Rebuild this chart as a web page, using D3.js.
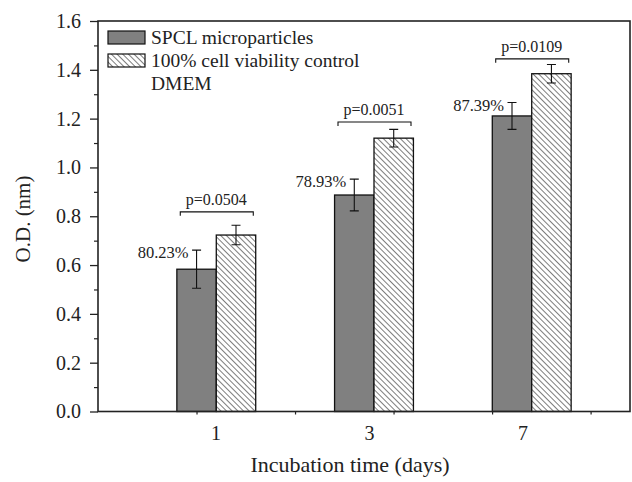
<!DOCTYPE html>
<html>
<head>
<meta charset="utf-8">
<script src="https://d3js.org/d3.v7.min.js"></script>
<style>
  body { margin: 0; background: #fff; }
</style>
</head>
<body>
<div id="chart"></div>
<script>
// data
const days = ["1", "3", "7"];
const spclMeans = [0.583, 0.887, 1.211];
const spclErr = [0.078, 0.065, 0.055];
const ctrlMeans = [0.723, 1.120, 1.384];
const ctrlErr = [0.040, 0.036, 0.038];
const viability = ["80.23%", "78.93%", "87.39%"];
const pValues = ["p=0.0504", "p=0.0051", "p=0.0109"];
const bracketAt = [0.818, 1.186, 1.445];
const yTicks = [0, 0.2, 0.4, 0.6, 0.8, 1.0, 1.2, 1.4, 1.6];

const W = 632, H = 482;
const plot = { left: 98, right: 630, top: 21, bottom: 411.5 };
const FONT = "'Liberation Serif', 'Times New Roman', serif";

const svg = d3.select("#chart").append("svg")
  .attr("width", W).attr("height", H);

// hatch pattern
const defs = svg.append("defs");
defs.append("pattern")
  .attr("id", "hatch")
  .attr("patternUnits", "userSpaceOnUse")
  .attr("width", 4).attr("height", 4)
  .attr("patternTransform", "rotate(-45)")
  .call(p => {
    p.append("rect").attr("width", 4).attr("height", 4).attr("fill", "#fff");
    p.append("line").attr("x1", 0).attr("y1", 0).attr("x2", 0).attr("y2", 4)
      .attr("stroke", "#111").attr("stroke-width", 1.1);
  });

const y = d3.scaleLinear().domain([0, 1.6]).range([plot.bottom, plot.top]);
const x = d3.scaleBand().domain(days).range([plot.left, 650]).paddingInner(0.5).paddingOuter(0.5);
const xSub = d3.scaleBand().domain(["spcl", "ctrl"]).range([0, x.bandwidth()]);
const xLabel = d3.scalePoint().domain(days).range([216, 523]);
const xTick = d3.scaleLinear().domain([0, 5.4]).range([plot.left, plot.right]);

const rows = days.map((d, i) => ({
  day: d,
  spcl: spclMeans[i], spclE: spclErr[i],
  ctrl: ctrlMeans[i], ctrlE: ctrlErr[i],
  pct: viability[i], p: pValues[i], br: bracketAt[i]
}));

// bars
const g = svg.append("g");
const grp = g.selectAll("g.grp").data(rows).join("g")
  .attr("class", "grp")
  .attr("transform", d => `translate(${x(d.day)},0)`);

grp.append("rect")
  .attr("x", xSub("spcl")).attr("width", xSub.bandwidth())
  .attr("y", d => y(d.spcl)).attr("height", d => y(0) - y(d.spcl))
  .attr("fill", "#808080").attr("stroke", "#111").attr("stroke-width", 1.3);

grp.append("rect")
  .attr("x", xSub("ctrl")).attr("width", xSub.bandwidth())
  .attr("y", d => y(d.ctrl)).attr("height", d => y(0) - y(d.ctrl))
  .attr("fill", "url(#hatch)").attr("stroke", "#111").attr("stroke-width", 1.3);

// error bars
function errBar(sel, cx, mean, err) {
  const cap = 4.5;
  sel.append("path")
    .attr("d", d => {
      const c = cx, t = y(d[mean] + d[err]), b = y(d[mean] - d[err]);
      return `M${c},${t}V${b}M${c - cap},${t}H${c + cap}M${c - cap},${b}H${c + cap}`;
    })
    .attr("fill", "none").attr("stroke", "#111").attr("stroke-width", 1.1);
}
errBar(grp, xSub("spcl") + xSub.bandwidth() / 2, "spcl", "spclE");
errBar(grp, xSub("ctrl") + xSub.bandwidth() / 2, "ctrl", "ctrlE");

// viability labels
grp.append("text")
  .attr("x", xSub("spcl") + xSub.bandwidth() / 2 - 8)
  .attr("y", d => y(d.spcl + d.spclE) + 8)
  .attr("text-anchor", "end")
  .attr("font-size", 16.5)
  .text(d => d.pct);

// p-value brackets
grp.append("path")
  .attr("d", d => {
    const a = x.bandwidth() / 2 - 36, b = x.bandwidth() / 2 + 37, yy = y(d.br);
    return `M${a},${yy + 4}V${yy}H${b}V${yy + 4}`;
  })
  .attr("fill", "none").attr("stroke", "#111").attr("stroke-width", 1.1);

grp.append("text")
  .attr("x", x.bandwidth() / 2)
  .attr("y", d => y(d.br) - 7)
  .attr("text-anchor", "middle")
  .attr("font-size", 16)
  .text(d => d.p);

// frame
svg.append("rect")
  .attr("x", plot.left).attr("y", plot.top)
  .attr("width", plot.right - plot.left).attr("height", plot.bottom - plot.top)
  .attr("fill", "none").attr("stroke", "#222").attr("stroke-width", 1.6);

// y axis
const yAxis = svg.append("g")
  .attr("transform", `translate(${plot.left},0)`)
  .call(d3.axisLeft(y).tickValues(yTicks).tickSize(8).tickPadding(9).tickFormat(d3.format(".1f")));
yAxis.select(".domain").remove();
yAxis.selectAll("line").attr("stroke", "#222").attr("stroke-width", 1.3);
yAxis.selectAll("text").attr("font-size", 20);

const yMinor = svg.append("g")
  .attr("transform", `translate(${plot.left},0)`)
  .call(d3.axisLeft(y).tickValues(yTicks.slice(0, -1).map(v => v + 0.1)).tickSize(4).tickFormat(""));
yMinor.select(".domain").remove();
yMinor.selectAll("line").attr("stroke", "#222").attr("stroke-width", 1.2);

// x axis ticks
const xAxis = svg.append("g")
  .attr("transform", `translate(0,${plot.bottom})`)
  .call(d3.axisBottom(xTick).tickValues([1, 2, 3, 4, 5]).tickSize(3).tickFormat(""));
xAxis.select(".domain").remove();
xAxis.selectAll("line").attr("stroke", "#222").attr("stroke-width", 1.2);

svg.append("g").selectAll("text").data(days).join("text")
  .attr("x", d => xLabel(d)).attr("y", 440)
  .attr("text-anchor", "middle").attr("font-size", 20)
  .text(d => d);

// axis titles
svg.append("text")
  .attr("x", 350).attr("y", 472)
  .attr("text-anchor", "middle").attr("font-size", 22)
  .text("Incubation time (days)");

svg.append("text")
  .attr("transform", "translate(30,219) rotate(-90)")
  .attr("text-anchor", "middle").attr("font-size", 21)
  .text("O.D. (nm)");

// legend
const leg = svg.append("g");
leg.append("rect").attr("x", 108).attr("y", 31).attr("width", 37).attr("height", 13)
  .attr("fill", "#808080").attr("stroke", "#111").attr("stroke-width", 1.2);
leg.append("text").attr("x", 151).attr("y", 44).attr("font-size", 19.5).text("SPCL microparticles");
leg.append("rect").attr("x", 108).attr("y", 54).attr("width", 37).attr("height", 13)
  .attr("fill", "url(#hatch)").attr("stroke", "#111").attr("stroke-width", 1.2);
leg.append("text").attr("x", 151).attr("y", 67).attr("font-size", 19.5).text("100% cell viability control");
leg.append("text").attr("x", 151).attr("y", 90).attr("font-size", 19.5).text("DMEM");

// serif font everywhere
svg.selectAll("text").style("font-family", FONT).attr("fill", "#222");
</script>
</body>
</html>
